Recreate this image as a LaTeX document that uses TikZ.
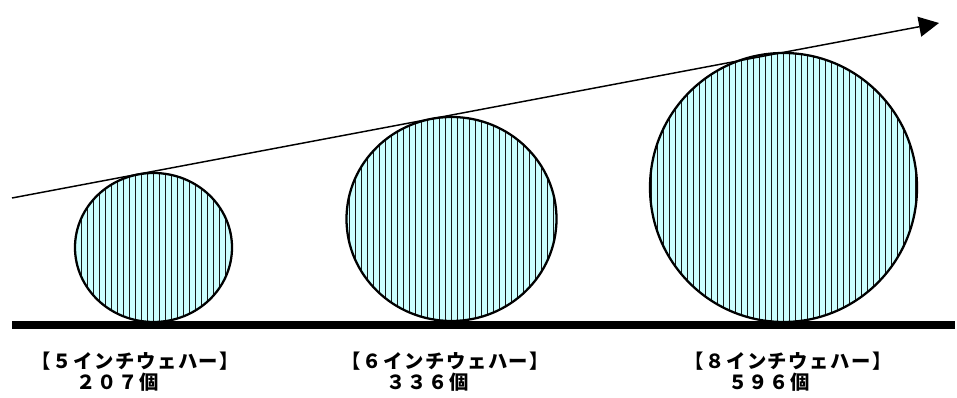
\documentclass[tikz,border=0pt]{standalone}
\usepackage{fontspec}
\newfontfamily\jpfont[LetterSpace=8]{Noto Sans CJK JP}
\usetikzlibrary{shapes.geometric, arrows.meta, positioning}
\definecolor{clrWafer}{HTML}{CCFFFF}
\tikzset{
  wafer/.style = {ellipse, draw, line width=1.7pt, fill=clrWafer, inner sep=0pt,
                  path picture={
                    \foreach \k in {-24,...,24}
                      \draw[line width=0.75pt, black!90] ([xshift=\k*4.5pt]path picture bounding box.north)
                        -- ([xshift=\k*4.5pt]path picture bounding box.south);
                  }},
  ground/.style = {rectangle, fill=black, inner sep=0pt},
  trend/.style = {-{Triangle[length=15pt, width=15pt]}, line width=1.1pt},
  label/.style = {font=\jpfont\bfseries\fontsize{14.5pt}{16pt}\selectfont, inner sep=0pt},
}
\begin{document}
\begin{tikzpicture}[x=0.75pt, y=-0.75pt]
  \useasboundingbox (0,0) rectangle (957,398);

  % Wafers, standing on the ground line
  \node[wafer, minimum width=157*0.75pt, minimum height=149*0.75pt] (W5) at (153.5,247.5) {};
  \node[wafer, minimum width=210*0.75pt, minimum height=204*0.75pt] (W6) at (451.5,219) {};
  \node[wafer, minimum width=267*0.75pt, minimum height=269*0.75pt] (W8) at (783.5,187.5) {};

  % Ground line
  \node[ground, minimum width=943*0.75pt, minimum height=8*0.75pt] (Base) at (483.5,325) {};

  % Trend arrow touching the tops
  \coordinate (TrendStart) at (12,198);
  \coordinate (TrendEnd)   at (939,23);
  \draw[trend] (TrendStart) -- (TrendEnd);

  % Labels
  \node[label] (L5)  at (135.5,361) {【５インチウェハー】};
  \node[label] (N5)  at (117.5,382) {２０７個};
  \node[label] (L6)  at (445.5,361) {【６インチウェハー】};
  \node[label] (N6)  at (427.5,382) {３３６個};
  \node[label] (L8)  at (788,361)   {【８インチウェハー】};
  \node[label] (N8)  at (769,382)   {５９６個};

\end{tikzpicture}
\end{document}
